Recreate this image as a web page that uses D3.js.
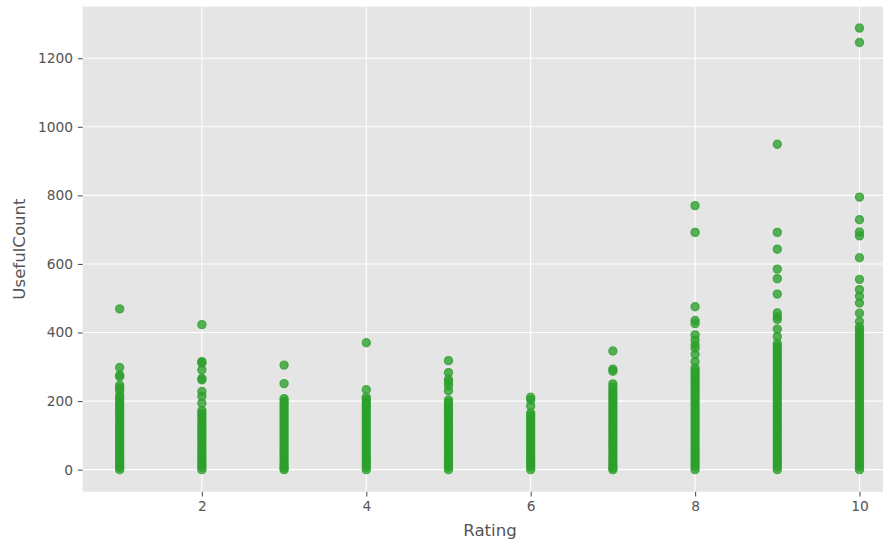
<!DOCTYPE html>
<html>
<head>
<meta charset="utf-8">
<script src="https://cdnjs.cloudflare.com/ajax/libs/d3/7.8.5/d3.min.js"></script>
<style>
  body { margin: 0; background: #fff; }
  svg text { font-family: "DejaVu Sans", sans-serif; }
</style>
</head>
<body>
<div id="chart"></div>
<script>
// UsefulCount by Rating
const ratings = [1, 2, 3, 4, 5, 6, 7, 8, 9, 10];

const useful1 = [469, 298, 276, 271, 246, 238, 230, 216, 208, 200, 193, 186, 178, 170, 163, 155, 147, 140, 131, 124, 116, 108, 101, 93, 86, 78, 70, 63, 55, 48, 40, 33, 26, 19, 12, 6, 0];
const useful2 = [423, 315, 311, 291, 266, 262, 228, 214, 194, 172, 165, 158, 150, 141, 133, 126, 118, 110, 103, 95, 87, 80, 72, 64, 57, 49, 41, 34, 27, 20, 13, 7, 0];
const useful3 = [305, 251, 207, 200, 193, 185, 177, 170, 162, 154, 147, 139, 131, 124, 116, 108, 101, 93, 85, 78, 70, 62, 55, 47, 40, 32, 25, 18, 11, 5, 0];
const useful4 = [370, 233, 211, 204, 196, 188, 181, 173, 165, 158, 150, 142, 135, 127, 119, 112, 104, 96, 89, 81, 73, 66, 58, 50, 43, 35, 28, 21, 14, 7, 0];
const useful5 = [318, 283, 263, 256, 245, 230, 203, 196, 188, 180, 173, 165, 157, 150, 142, 134, 127, 119, 111, 104, 96, 88, 81, 73, 65, 58, 50, 42, 35, 28, 21, 14, 7, 0];
const useful6 = [211, 203, 186, 165, 158, 150, 143, 135, 127, 120, 112, 104, 97, 89, 81, 74, 66, 58, 51, 43, 36, 29, 22, 15, 8, 0];
const useful7 = [346, 293, 287, 250, 241, 232, 224, 216, 208, 201, 193, 185, 178, 170, 162, 155, 147, 139, 132, 124, 116, 109, 101, 93, 86, 78, 70, 63, 55, 47, 40, 32, 25, 18, 11, 5, 0];
const useful8 = [770, 692, 475, 435, 426, 393, 378, 364, 354, 336, 315, 296, 288, 280, 272, 264, 256, 248, 240, 232, 224, 216, 208, 200, 192, 184, 176, 168, 160, 152, 144, 136, 128, 120, 112, 104, 96, 88, 80, 72, 64, 56, 48, 40, 32, 24, 16, 8, 0];
const useful9 = [949, 692, 643, 585, 557, 512, 457, 446, 438, 410, 388, 368, 360, 352, 344, 336, 328, 320, 312, 304, 296, 288, 280, 272, 264, 256, 248, 240, 232, 224, 216, 208, 200, 192, 184, 176, 168, 160, 152, 144, 136, 128, 120, 112, 104, 96, 88, 80, 72, 64, 56, 48, 40, 32, 24, 16, 8, 0];
const useful10 = [1288, 1246, 795, 729, 693, 682, 618, 555, 525, 506, 486, 456, 432, 416, 408, 400, 392, 384, 376, 368, 360, 352, 344, 336, 328, 320, 312, 304, 296, 288, 280, 272, 264, 256, 248, 240, 232, 224, 216, 208, 200, 192, 184, 176, 168, 160, 152, 144, 136, 128, 120, 112, 104, 96, 88, 80, 72, 64, 56, 48, 40, 32, 24, 16, 8, 0];

const xTicks = [2, 4, 6, 8, 10];
const yTicks = [0, 200, 400, 600, 800, 1000, 1200];

const columns = [useful1, useful2, useful3, useful4, useful5, useful6, useful7, useful8, useful9, useful10];
const points = [];
ratings.forEach((r, i) => {
  columns[i].forEach(v => points.push({ rating: r, useful: v }));
});

const W = 883;
const H = 544;
const plot = { left: 82.7, top: 6.7, bottom: 491.7 };

const x = d3.scaleLinear().domain([0.55, 10.45]).range([plot.left, plot.left + 9.9 * 82.2]);
const y = d3.scaleLinear().domain([-64.3, 1350.3]).range([plot.bottom, plot.top]);

const svg = d3.select('#chart')
  .append('svg')
  .attr('width', W)
  .attr('height', H);

// panel background
svg.append('rect')
  .attr('x', x.range()[0])
  .attr('y', plot.top)
  .attr('width', x.range()[1] - x.range()[0])
  .attr('height', plot.bottom - plot.top)
  .attr('fill', '#e5e5e5');

// grid
svg.append('g')
  .selectAll('line')
  .data(xTicks)
  .join('line')
  .attr('x1', d => x(d)).attr('x2', d => x(d))
  .attr('y1', plot.top).attr('y2', plot.bottom)
  .attr('stroke', '#fff').attr('stroke-width', 1.1);

svg.append('g')
  .selectAll('line')
  .data(yTicks)
  .join('line')
  .attr('x1', x.range()[0]).attr('x2', x.range()[1])
  .attr('y1', d => y(d)).attr('y2', d => y(d))
  .attr('stroke', '#fff').attr('stroke-width', 1.1);

// points (face + same-colour edge, like matplotlib scatter)
svg.append('g')
  .selectAll('circle')
  .data(points)
  .join('circle')
  .attr('cx', d => x(d.rating))
  .attr('cy', d => y(d.useful))
  .attr('r', 4.1)
  .attr('fill', '#2ca02c')
  .attr('fill-opacity', 0.78)
  .attr('stroke', '#2ca02c')
  .attr('stroke-opacity', 0.78)
  .attr('stroke-width', 1.2);

// axes
const gx = svg.append('g')
  .attr('transform', `translate(0,${plot.bottom})`)
  .call(d3.axisBottom(x).tickValues(xTicks).tickSize(4.8).tickPadding(4.8).tickFormat(d3.format('d')));

const gy = svg.append('g')
  .attr('transform', `translate(${plot.left},0)`)
  .call(d3.axisLeft(y).tickValues(yTicks).tickSize(4.8).tickPadding(4.8).tickFormat(d3.format('d')));

[gx, gy].forEach(g => {
  g.select('.domain').remove();
  g.selectAll('line').attr('stroke', '#555').attr('stroke-width', 1.1);
  g.selectAll('text')
    .attr('fill', '#555')
    .style('font-size', '13.8px')
    .style('font-family', '"DejaVu Sans", sans-serif');
});

// axis labels
svg.append('text')
  .attr('x', 490)
  .attr('y', 535.5)
  .attr('text-anchor', 'middle')
  .attr('fill', '#555')
  .style('font-size', '16.6px')
  .text('Rating');

svg.append('text')
  .attr('transform', `translate(25,249) rotate(-90)`)
  .attr('text-anchor', 'middle')
  .attr('fill', '#555')
  .style('font-size', '16.6px')
  .text('UsefulCount');
</script>
</body>
</html>
